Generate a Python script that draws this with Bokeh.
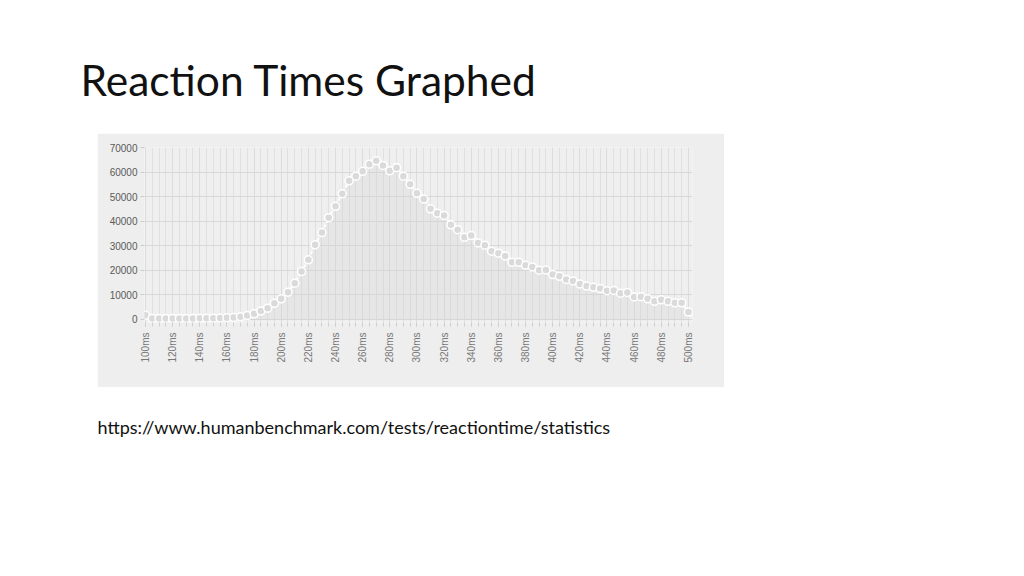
import math
from bokeh.plotting import figure
from bokeh.layouts import column, row
from bokeh.models import (Label, Spacer, FixedTicker, PrintfTickFormatter,
                          NumeralTickFormatter, ColumnDataSource)
from bokeh.embed import file_html
from bokeh.resources import INLINE

# ---------------- data ----------------
reaction_ms = [100, 105, 110, 115, 120, 125, 130, 135, 140, 145,
               150, 155, 160, 165, 170, 175, 180, 185, 190, 195,
               200, 205, 210, 215, 220, 225, 230, 235, 240, 245,
               250, 255, 260, 265, 270, 275, 280, 285, 290, 295,
               300, 305, 310, 315, 320, 325, 330, 335, 340, 345,
               350, 355, 360, 365, 370, 375, 380, 385, 390, 395,
               400, 405, 410, 415, 420, 425, 430, 435, 440, 445,
               450, 455, 460, 465, 470, 475, 480, 485, 490, 495,
               500]
counts = [1600, 300, 300, 300, 300, 300, 300, 300, 350, 400,
          400, 500, 600, 700, 1000, 1500, 2200, 3300, 4500, 6500,
          8300, 11000, 14700, 19400, 24200, 30400, 35300, 41400, 46000, 51100,
          56400, 58300, 60300, 63200, 64600, 62700, 60500, 61700, 58300, 55000,
          51300, 49000, 45000, 43200, 42300, 38500, 36500, 33400, 34100, 31100,
          30200, 27700, 26900, 25800, 23200, 23200, 22000, 21300, 20000, 20100,
          18200, 17500, 16200, 15600, 14400, 13500, 13000, 12500, 11600, 11700,
          10600, 10900, 9100, 9200, 8300, 7300, 7900, 7300, 6700, 6700,
          2900]
x_tick_labels = [100, 120, 140, 160, 180, 200, 220, 240, 260, 280, 300,
                 320, 340, 360, 380, 400, 420, 440, 460, 480, 500]
y_ticks = [0, 10000, 20000, 30000, 40000, 50000, 60000, 70000]
title_text = "Reaction Times Graphed"
source_text = "https://www.humanbenchmark.com/tests/reactiontime/statistics"

src = ColumnDataSource(dict(x=reaction_ms, y=counts, base=[0] * len(counts)))

# ---------------- title strip ----------------
tf = figure(width=1016, height=133, output_backend="svg", toolbar_location=None,
            x_axis_location=None, y_axis_location=None, min_border=0,
            outline_line_color=None)
tf.grid.visible = False
tf.add_layout(Label(x=80, y=54, x_units="screen", y_units="screen", text=title_text,
                    text_font="Lato", text_font_size="42.5px",
                    text_color="#111111", text_baseline="alphabetic"))

# ---------------- chart ----------------
p = figure(width=627, height=254, output_backend="svg", toolbar_location=None,
           x_range=(99.3, 503), y_range=(-1340, 70000),
           min_border_left=47, min_border_right=32, min_border_top=14,
           min_border_bottom=65, outline_line_color=None,
           background_fill_color="#efefef", border_fill_color="#eeeeee")

p.varea(x="x", y1="base", y2="y", source=src, fill_color="#d2d2d2", fill_alpha=0.3)
p.line(x="x", y="y", source=src, line_color="#ffffff", line_width=2, line_dash="3 2")
p.scatter(x="x", y="y", source=src, size=8, fill_color="#dadada",
          line_color="#ffffff", line_width=1.5)

p.xaxis.ticker = FixedTicker(ticks=x_tick_labels, minor_ticks=reaction_ms)
p.xaxis.formatter = PrintfTickFormatter(format="%dms")
p.xaxis.major_label_orientation = math.pi / 2
p.xaxis.major_label_text_font = "Liberation Sans"
p.xaxis.major_label_text_font_size = "10px"
p.xaxis.major_label_text_color = "#777777"
p.xaxis.major_label_standoff = 6
p.xaxis.axis_line_color = None
p.xaxis.major_tick_line_color = "#cfcfcf"
p.xaxis.minor_tick_line_color = "#cfcfcf"
p.xaxis.major_tick_in = 0
p.xaxis.major_tick_out = 4
p.xaxis.minor_tick_in = 0
p.xaxis.minor_tick_out = 4

p.yaxis.ticker = FixedTicker(ticks=y_ticks)
p.yaxis.formatter = NumeralTickFormatter(format="0")
p.yaxis.major_label_text_font = "Liberation Sans"
p.yaxis.major_label_text_font_size = "10px"
p.yaxis.major_label_text_color = "#5a5a5a"
p.yaxis.major_label_standoff = 3
p.yaxis.axis_line_color = None
p.yaxis.major_tick_line_color = "#cccccc"
p.yaxis.major_tick_in = 0
p.yaxis.major_tick_out = 4
p.yaxis.minor_tick_line_color = None

p.ygrid.ticker = FixedTicker(ticks=y_ticks)
p.ygrid.grid_line_color = "#d8d8d8"
p.xgrid.ticker = FixedTicker(ticks=x_tick_labels, minor_ticks=reaction_ms)
p.xgrid.grid_line_color = "#dcdcdc"
p.xgrid.minor_grid_line_color = "#e0e0e0"

# ---------------- source strip ----------------
uf = figure(width=1016, height=185, output_backend="svg", toolbar_location=None,
            x_axis_location=None, y_axis_location=None, min_border=0,
            outline_line_color=None)
uf.grid.visible = False
uf.add_layout(Label(x=97, y=146, x_units="screen", y_units="screen", text=source_text,
                    text_font="Lato", text_font_size="18px",
                    text_color="#111111", text_baseline="alphabetic"))

layout = column(tf, row(Spacer(width=97, height=254), p), uf)

open("out.html", "w").write(file_html(layout, INLINE))
